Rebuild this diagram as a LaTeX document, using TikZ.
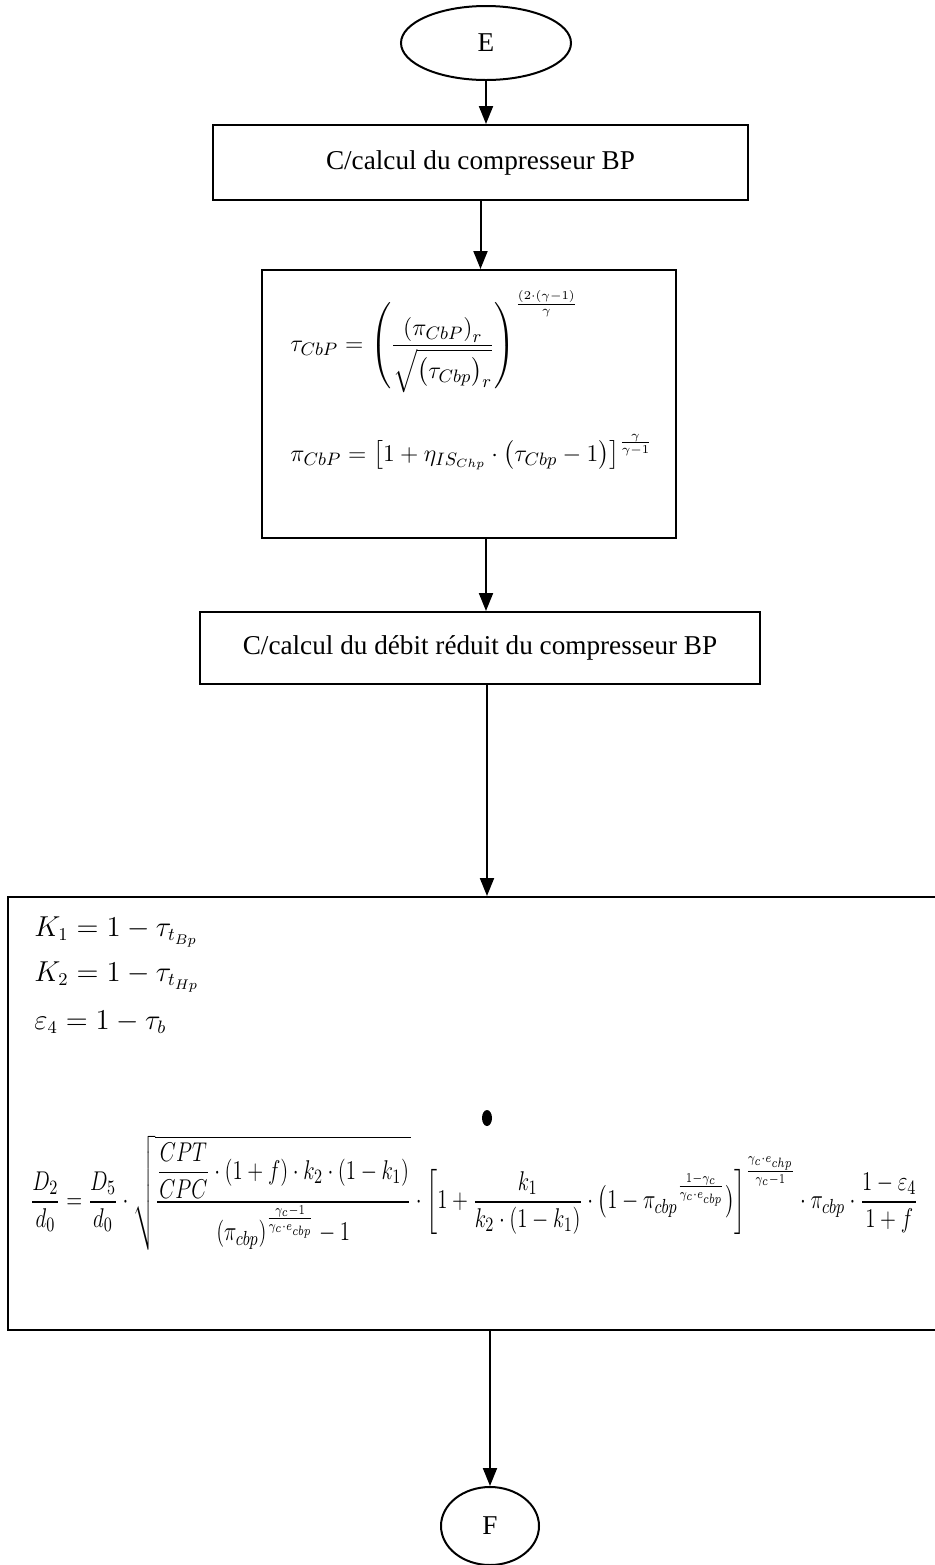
\documentclass[tikz,border=0pt]{standalone}
\usepackage{amsmath}
\usepackage{graphicx}
\usepackage{fontspec}
\setmainfont{Liberation Serif}
\usetikzlibrary{arrows.meta,shapes.geometric,calc}
\tikzset{
  box/.style={draw,line width=1pt,rectangle,inner sep=0pt},
  lbl/.style={font=\fontsize{13.6}{16}\selectfont},
  eq/.style={font=\fontsize{13}{16}\selectfont,inner sep=0pt,anchor=west},
  eqk/.style={font=\fontsize{13.5}{16}\selectfont,inner sep=0pt,anchor=west},
  arr/.style={line width=1pt,-{Triangle[width=7pt,length=9pt]}},
  term/.style={draw,line width=1pt,ellipse,inner sep=0pt,font=\fontsize{13.6}{16}\selectfont}
}
\begin{document}
\begin{tikzpicture}[x=0.5pt,y=-0.5pt]
\useasboundingbox (0,0) rectangle (935,1565);
% terminals
\node[term,minimum width=85pt,minimum height=37pt] (E) at (486,43) {E};
\node[term,minimum width=49pt,minimum height=39pt] (F) at (490,1526) {F};
% boxes
\node[box,lbl,minimum width=267.5pt,minimum height=37.5pt] (b1) at (480.5,162.5) {C/calcul du compresseur BP};
\node[box,minimum width=207pt,minimum height=134pt] (b2) at (469,404) {};
\node[box,lbl,minimum width=280pt,minimum height=36pt] (b3) at (480,648) {C/calcul du débit réduit du compresseur BP};
\node[box,minimum width=468.5pt,minimum height=216.5pt] (b4) at (476.5,1113.5) {};
% formulas box 2
\node[eq] (f1) at (290,342) {$\displaystyle \tau_{CbP}=\left(\frac{\left(\pi_{CbP}\right)_r}{\sqrt{\left(\tau_{Cbp}\right)_r}}\right)^{\frac{(2\cdot(\gamma-1)}{\gamma}}$};
\node[eq] (f2) at (290,452) {$\displaystyle \pi_{CbP}=\left[1+\eta_{IS_{Chp}}\cdot\left(\tau_{Cbp}-1\right)\right]^{\frac{\gamma}{\gamma-1}}$};
% formulas box 4
\node[eqk] (k1) at (34,932) {$K_1=1-\tau_{t_{Bp}}$};
\node[eqk] (k2) at (34,977) {$K_2=1-\tau_{t_{Hp}}$};
\node[eqk] (e4) at (34,1022) {$\varepsilon_4=1-\tau_b$};
\node[eq] (big) at (30,1193) {\resizebox{444pt}{!}{\scalebox{1}[1.3]{$\displaystyle \frac{D_2}{d_0}=\frac{D_5}{d_0}\cdot\sqrt{\frac{\dfrac{CPT}{CPC}\cdot(1+f)\cdot k_2\cdot(1-k_1)}{(\pi_{cbp})^{\frac{\gamma_c-1}{\gamma_c\cdot e_{cbp}}}-1}}\cdot\left[1+\frac{k_1}{k_2\cdot(1-k_1)}\cdot\bigl(1-\pi_{cbp}{}^{\frac{1-\gamma_c}{\gamma_c\cdot e_{cbp}}}\bigr)\right]^{\frac{\gamma_c\cdot e_{chp}}{\gamma_c-1}}\cdot\pi_{cbp}\cdot\frac{1-\varepsilon_4}{1+f}$}}};
\fill (487,1118) ellipse [x radius=2.5pt,y radius=4pt];
% connectors
\coordinate (a2) at ($(b2.south)+(17,0)$);
\coordinate (a3) at ($(b3.south)+(7,0)$);
\coordinate (a4) at ($(b4.south)+(13.5,0)$);
\draw[arr] (E.south) -- (E.south |- b1.north);
\draw[arr] (b1.south) -- (b1.south |- b2.north);
\draw[arr] (a2) -- (a2 |- b3.north);
\draw[arr] (a3) -- (a3 |- b4.north);
\draw[arr] (a4) -- (a4 |- F.north);
\end{tikzpicture}
\end{document}
